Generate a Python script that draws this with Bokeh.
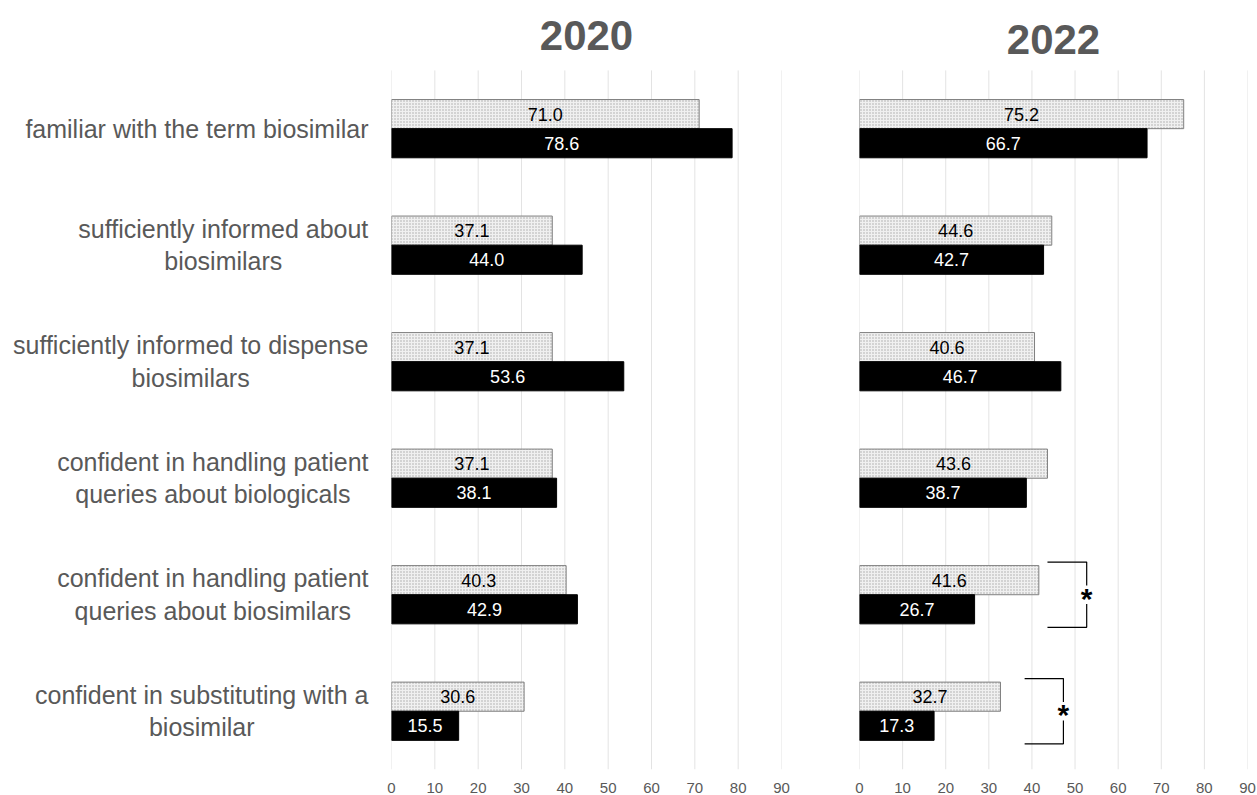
from bokeh.plotting import figure
from bokeh.layouts import row
from bokeh.models import Range1d, FixedTicker, ColumnDataSource
from bokeh.core.properties import value
from bokeh.embed import file_html
from bokeh.resources import INLINE

categories = [
    "familiar with the term biosimilar",
    "sufficiently informed about\nbiosimilars",
    "sufficiently informed to dispense\nbiosimilars",
    "confident in handling patient\nqueries about biologicals",
    "confident in handling patient\nqueries about biosimilars",
    "confident in substituting with a\nbiosimilar",
]
panel_titles = ["2020", "2022"]
light_2020 = [71.0, 37.1, 37.1, 37.1, 40.3, 30.6]
dark_2020 = [78.6, 44.0, 53.6, 38.1, 42.9, 15.5]
light_2022 = [75.2, 44.6, 40.6, 43.6, 41.6, 32.7]
dark_2022 = [66.7, 42.7, 46.7, 38.7, 26.7, 17.3]
x_ticks = [0, 10, 20, 30, 40, 50, 60, 70, 80, 90]

# significance brackets (2022 panel): category index, left x, right x
sig_rows = [4, 5]
sig_left = [43.6, 38.3]
sig_right = [52.7, 47.3]

FONT = "Liberation Sans"
GREY = "#595959"
BAR_H = 0.25
LABEL_SIZE = 25
LABEL_AREA = 381      # px reserved for category labels
LABEL_RIGHT = 368     # right edge of the label block
N = len(categories)

# Liberation Sans (Arial-metric) advance widths, per 1000 em
ADV = dict(zip("abcdefghijklmnopqrstuvwxyz ",
               [556, 556, 500, 556, 556, 278, 556, 556, 222, 222, 500, 222, 833,
                556, 556, 556, 556, 333, 500, 278, 556, 500, 722, 500, 500, 500, 278]))


def text_width(s, size):
    return max(sum(ADV.get(ch, 556) for ch in line) for line in s.split("\n")) * size / 1000.0


# category rows span -0.5 .. N-0.5; the extra room on top holds the panel titles
y_range = Range1d(N - 0.5, -1.1)
idx = list(range(N))

# ---- category label column -------------------------------------------------
lab = figure(width=LABEL_AREA, height=795, output_backend="svg", toolbar_location=None,
             x_range=Range1d(0, LABEL_AREA), y_range=y_range,
             x_axis_location=None, y_axis_location=None,
             min_border_left=0, min_border_right=0, min_border_top=0, min_border_bottom=25)
lab.outline_line_color = None
lab.grid.visible = False
lab_src = ColumnDataSource(dict(
    x=[LABEL_RIGHT - text_width(c, LABEL_SIZE) / 2 for c in categories],
    y=idx, text=categories))
lab.text(x="x", y="y", text="text", source=lab_src, text_align="center",
         text_baseline="middle", text_font=value(FONT), text_font_size="%dpx" % LABEL_SIZE,
         text_color=GREY, text_line_height=1.16)


def make_panel(title, title_y, light, dark, width, border_left, border_right):
    p = figure(width=width, height=795, output_backend="svg", toolbar_location=None,
               x_range=Range1d(0, 90), y_range=y_range, y_axis_location=None,
               min_border_left=border_left, min_border_right=border_right,
               min_border_top=0, min_border_bottom=25)
    p.outline_line_color = None
    p.grid.visible = False

    # vertical grid lines over the category area only
    p.segment(x0=x_ticks, y0=[-0.5] * len(x_ticks), x1=x_ticks, y1=[N - 0.5] * len(x_ticks),
              line_color="#e3e3e3", line_width=1)

    p.text(x=[45], y=[title_y], text=[title], text_align="center", text_baseline="middle",
           text_font=value(FONT), text_font_size="42px", text_font_style="bold",
           text_color=GREY)

    src = ColumnDataSource(dict(
        y_light=[i - BAR_H / 2 for i in idx],
        y_dark=[i + BAR_H / 2 for i in idx],
        light=light, dark=dark,
        light_mid=[v / 2 for v in light], dark_mid=[v / 2 for v in dark],
        light_txt=["%.1f" % v for v in light], dark_txt=["%.1f" % v for v in dark],
    ))
    p.hbar(y="y_light", left=0, right="light", height=BAR_H, source=src,
           fill_color="#f0f0f0", hatch_pattern="dot", hatch_color="#a8a8a8",
           hatch_scale=3, hatch_weight=0.8, line_color="#7f7f7f", line_width=1)
    p.hbar(y="y_dark", left=0, right="dark", height=BAR_H, source=src,
           fill_color="black", line_color="black", line_width=1)
    p.text(x="light_mid", y="y_light", text="light_txt", source=src,
           text_align="center", text_baseline="middle", text_font=value(FONT),
           text_font_size="18px", text_color="black")
    p.text(x="dark_mid", y="y_dark", text="dark_txt", source=src,
           text_align="center", text_baseline="middle", text_font=value(FONT),
           text_font_size="18px", text_color="white")

    p.xaxis.ticker = FixedTicker(ticks=x_ticks)
    p.xaxis.axis_line_color = None
    p.xaxis.major_tick_line_color = None
    p.xaxis.minor_tick_line_color = None
    p.xaxis.major_label_text_font = FONT
    p.xaxis.major_label_text_font_size = "15px"
    p.xaxis.major_label_text_color = GREY
    p.xaxis.major_label_standoff = 7
    return p


p1 = make_panel(panel_titles[0], -0.80, light_2020, dark_2020, 439, 10, 39)
p2 = make_panel(panel_titles[1], -0.765, light_2022, dark_2022, 437, 39, 10)

# brackets with asterisks
for r, xl, xr in zip(sig_rows, sig_left, sig_right):
    top, bot = r - 0.28, r + 0.28
    p2.line(x=[xl, xr, xr], y=[top, top, r - 0.08], line_color="black", line_width=1.2)
    p2.line(x=[xr, xr, xl], y=[r + 0.08, bot, bot], line_color="black", line_width=1.2)
    p2.text(x=[xr], y=[r + 0.03], text=["*"], text_align="center", text_baseline="middle",
            text_font=value(FONT), text_font_size="30px", text_font_style="bold",
            text_color="black")

layout = row(lab, p1, p2)
open("out.html", "w").write(file_html(layout, INLINE))
